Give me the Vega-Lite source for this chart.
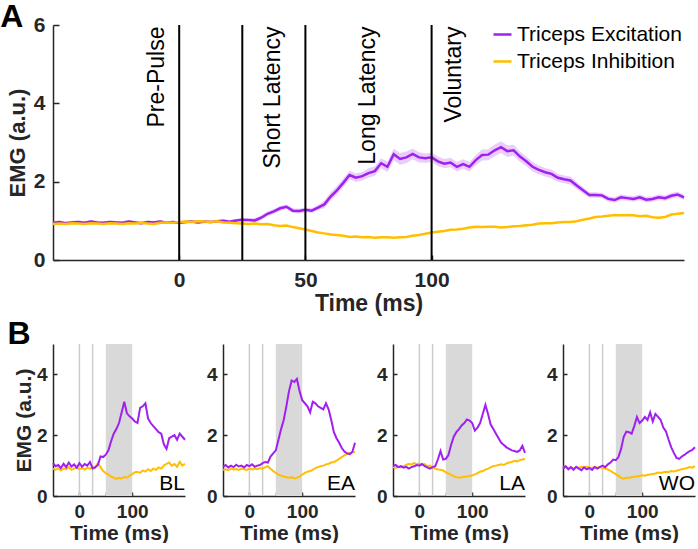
{
"$schema": "https://vega.github.io/schema/vega-lite/v6.json",
"padding": {"left": 0, "top": 1, "right": 0, "bottom": 0},
"background": "white",
"spacing": 3,
"config": {
  "view": {"stroke": null},
  "font": "Liberation Sans",
  "axis": {"grid": false, "domainColor": "#262626", "domainWidth": 1.5, "tickColor": "#262626", "tickWidth": 1.5, "labelColor": "#262626", "titleColor": "#262626", "labelFont": "Liberation Sans", "titleFont": "Liberation Sans", "labelFontWeight": "bold", "titleFontWeight": "bold"}
},
"datasets": {
"a": [
{"t":-50,"ex":0.95,"in":0.92,"lo":0.91,"hi":0.99},
{"t":-47.5,"ex":0.97,"in":0.93,"lo":0.93,"hi":1.01},
{"t":-45,"ex":0.94,"in":0.92,"lo":0.90,"hi":0.98},
{"t":-42.5,"ex":0.96,"in":0.94,"lo":0.92,"hi":1.00},
{"t":-40,"ex":0.97,"in":0.93,"lo":0.93,"hi":1.01},
{"t":-37.5,"ex":0.95,"in":0.92,"lo":0.91,"hi":0.99},
{"t":-35,"ex":0.98,"in":0.94,"lo":0.94,"hi":1.02},
{"t":-32.5,"ex":0.96,"in":0.93,"lo":0.92,"hi":1.00},
{"t":-30,"ex":0.95,"in":0.92,"lo":0.91,"hi":0.99},
{"t":-27.5,"ex":0.97,"in":0.94,"lo":0.93,"hi":1.01},
{"t":-25,"ex":0.96,"in":0.93,"lo":0.92,"hi":1.00},
{"t":-22.5,"ex":0.95,"in":0.92,"lo":0.91,"hi":0.99},
{"t":-20,"ex":0.98,"in":0.94,"lo":0.94,"hi":1.02},
{"t":-17.5,"ex":0.96,"in":0.93,"lo":0.92,"hi":1.00},
{"t":-15,"ex":0.94,"in":0.95,"lo":0.90,"hi":0.98},
{"t":-12.5,"ex":0.97,"in":0.93,"lo":0.93,"hi":1.01},
{"t":-10,"ex":0.96,"in":0.92,"lo":0.92,"hi":1.00},
{"t":-7.5,"ex":0.98,"in":0.95,"lo":0.94,"hi":1.02},
{"t":-5,"ex":0.95,"in":0.96,"lo":0.91,"hi":0.99},
{"t":-2.5,"ex":0.97,"in":0.95,"lo":0.93,"hi":1.01},
{"t":0,"ex":0.95,"in":0.97,"lo":0.91,"hi":0.99},
{"t":2.5,"ex":0.97,"in":0.98,"lo":0.93,"hi":1.01},
{"t":5,"ex":0.98,"in":0.97,"lo":0.94,"hi":1.02},
{"t":7.5,"ex":0.96,"in":0.99,"lo":0.92,"hi":1.00},
{"t":10,"ex":0.98,"in":0.98,"lo":0.94,"hi":1.02},
{"t":12.5,"ex":0.97,"in":0.97,"lo":0.93,"hi":1.01},
{"t":15,"ex":0.99,"in":0.99,"lo":0.95,"hi":1.03},
{"t":17.5,"ex":1.00,"in":0.96,"lo":0.96,"hi":1.04},
{"t":20,"ex":0.98,"in":0.95,"lo":0.94,"hi":1.02},
{"t":22.5,"ex":1.01,"in":0.94,"lo":0.97,"hi":1.05},
{"t":25,"ex":1.03,"in":0.93,"lo":0.99,"hi":1.07},
{"t":27.5,"ex":1.02,"in":0.92,"lo":0.98,"hi":1.06},
{"t":30,"ex":1.01,"in":0.93,"lo":0.95,"hi":1.07},
{"t":32.5,"ex":1.08,"in":0.91,"lo":1.02,"hi":1.14},
{"t":35,"ex":1.18,"in":0.92,"lo":1.12,"hi":1.24},
{"t":37.5,"ex":1.24,"in":0.89,"lo":1.18,"hi":1.30},
{"t":40,"ex":1.32,"in":0.87,"lo":1.26,"hi":1.38},
{"t":42.5,"ex":1.36,"in":0.88,"lo":1.30,"hi":1.42},
{"t":45,"ex":1.26,"in":0.84,"lo":1.20,"hi":1.32},
{"t":47.5,"ex":1.25,"in":0.81,"lo":1.19,"hi":1.31},
{"t":50,"ex":1.28,"in":0.78,"lo":1.22,"hi":1.34},
{"t":52.5,"ex":1.26,"in":0.74,"lo":1.20,"hi":1.32},
{"t":55,"ex":1.34,"in":0.70,"lo":1.28,"hi":1.40},
{"t":57.5,"ex":1.42,"in":0.68,"lo":1.32,"hi":1.52},
{"t":60,"ex":1.62,"in":0.65,"lo":1.51,"hi":1.73},
{"t":62.5,"ex":1.78,"in":0.64,"lo":1.67,"hi":1.89},
{"t":65,"ex":1.97,"in":0.62,"lo":1.86,"hi":2.08},
{"t":67.5,"ex":2.17,"in":0.59,"lo":2.06,"hi":2.28},
{"t":70,"ex":2.10,"in":0.60,"lo":1.99,"hi":2.21},
{"t":72.5,"ex":2.14,"in":0.58,"lo":2.03,"hi":2.25},
{"t":75,"ex":2.22,"in":0.59,"lo":2.10,"hi":2.34},
{"t":77.5,"ex":2.27,"in":0.57,"lo":2.15,"hi":2.39},
{"t":80,"ex":2.47,"in":0.58,"lo":2.34,"hi":2.60},
{"t":82.5,"ex":2.38,"in":0.58,"lo":2.25,"hi":2.51},
{"t":85,"ex":2.70,"in":0.57,"lo":2.55,"hi":2.85},
{"t":87.5,"ex":2.58,"in":0.58,"lo":2.43,"hi":2.73},
{"t":90,"ex":2.62,"in":0.59,"lo":2.47,"hi":2.77},
{"t":92.5,"ex":2.71,"in":0.62,"lo":2.57,"hi":2.85},
{"t":95,"ex":2.62,"in":0.64,"lo":2.49,"hi":2.75},
{"t":97.5,"ex":2.60,"in":0.67,"lo":2.48,"hi":2.72},
{"t":100,"ex":2.62,"in":0.70,"lo":2.50,"hi":2.74},
{"t":102.5,"ex":2.52,"in":0.72,"lo":2.40,"hi":2.64},
{"t":105,"ex":2.46,"in":0.74,"lo":2.34,"hi":2.58},
{"t":107.5,"ex":2.49,"in":0.77,"lo":2.37,"hi":2.61},
{"t":110,"ex":2.38,"in":0.78,"lo":2.26,"hi":2.50},
{"t":112.5,"ex":2.45,"in":0.80,"lo":2.33,"hi":2.57},
{"t":115,"ex":2.38,"in":0.83,"lo":2.26,"hi":2.50},
{"t":117.5,"ex":2.55,"in":0.85,"lo":2.42,"hi":2.68},
{"t":120,"ex":2.68,"in":0.84,"lo":2.54,"hi":2.82},
{"t":122.5,"ex":2.69,"in":0.85,"lo":2.55,"hi":2.83},
{"t":125,"ex":2.80,"in":0.85,"lo":2.65,"hi":2.95},
{"t":127.5,"ex":2.88,"in":0.83,"lo":2.73,"hi":3.03},
{"t":130,"ex":2.78,"in":0.84,"lo":2.63,"hi":2.93},
{"t":132.5,"ex":2.80,"in":0.86,"lo":2.66,"hi":2.94},
{"t":135,"ex":2.64,"in":0.87,"lo":2.51,"hi":2.77},
{"t":137.5,"ex":2.52,"in":0.89,"lo":2.40,"hi":2.64},
{"t":140,"ex":2.38,"in":0.90,"lo":2.26,"hi":2.50},
{"t":142.5,"ex":2.30,"in":0.93,"lo":2.19,"hi":2.41},
{"t":145,"ex":2.24,"in":0.94,"lo":2.13,"hi":2.35},
{"t":147.5,"ex":2.20,"in":0.94,"lo":2.09,"hi":2.31},
{"t":150,"ex":2.10,"in":0.96,"lo":2.00,"hi":2.20},
{"t":152.5,"ex":2.06,"in":0.97,"lo":1.96,"hi":2.16},
{"t":155,"ex":2.03,"in":0.97,"lo":1.93,"hi":2.13},
{"t":157.5,"ex":1.90,"in":0.99,"lo":1.81,"hi":1.99},
{"t":160,"ex":1.78,"in":1.03,"lo":1.70,"hi":1.86},
{"t":162.5,"ex":1.66,"in":1.06,"lo":1.59,"hi":1.73},
{"t":165,"ex":1.66,"in":1.10,"lo":1.59,"hi":1.73},
{"t":167.5,"ex":1.65,"in":1.11,"lo":1.58,"hi":1.72},
{"t":170,"ex":1.56,"in":1.13,"lo":1.49,"hi":1.63},
{"t":172.5,"ex":1.53,"in":1.15,"lo":1.46,"hi":1.60},
{"t":175,"ex":1.60,"in":1.14,"lo":1.53,"hi":1.67},
{"t":177.5,"ex":1.58,"in":1.15,"lo":1.51,"hi":1.65},
{"t":180,"ex":1.56,"in":1.14,"lo":1.49,"hi":1.63},
{"t":182.5,"ex":1.60,"in":1.12,"lo":1.53,"hi":1.67},
{"t":185,"ex":1.54,"in":1.13,"lo":1.47,"hi":1.61},
{"t":187.5,"ex":1.56,"in":1.09,"lo":1.49,"hi":1.63},
{"t":190,"ex":1.60,"in":1.08,"lo":1.53,"hi":1.67},
{"t":192.5,"ex":1.58,"in":1.10,"lo":1.51,"hi":1.65},
{"t":195,"ex":1.64,"in":1.16,"lo":1.57,"hi":1.71},
{"t":197.5,"ex":1.67,"in":1.18,"lo":1.60,"hi":1.74},
{"t":200,"ex":1.60,"in":1.20,"lo":1.53,"hi":1.67}
],
"b": [
{"p":"BL","t":-50,"e":1.08,"i":0.90},{"p":"BL","t":-45,"e":0.98,"i":0.86},{"p":"BL","t":-40,"e":1.02,"i":0.92},{"p":"BL","t":-35,"e":0.92,"i":0.84},{"p":"BL","t":-30,"e":1.06,"i":0.90},{"p":"BL","t":-25,"e":0.95,"i":0.88},{"p":"BL","t":-20,"e":1.10,"i":0.95},{"p":"BL","t":-15,"e":0.97,"i":0.86},{"p":"BL","t":-10,"e":1.04,"i":0.90},{"p":"BL","t":-5,"e":0.93,"i":0.94},{"p":"BL","t":0,"e":1.08,"i":0.88},{"p":"BL","t":5,"e":0.96,"i":0.92},{"p":"BL","t":10,"e":1.05,"i":0.87},{"p":"BL","t":15,"e":1.00,"i":0.93},{"p":"BL","t":20,"e":1.12,"i":0.90},{"p":"BL","t":25,"e":0.90,"i":0.95},{"p":"BL","t":30,"e":0.95,"i":0.92},{"p":"BL","t":35,"e":1.02,"i":1.08},{"p":"BL","t":40,"e":1.30,"i":0.95},{"p":"BL","t":45,"e":1.28,"i":0.82},{"p":"BL","t":50,"e":1.36,"i":0.75},{"p":"BL","t":55,"e":1.50,"i":0.70},{"p":"BL","t":60,"e":1.80,"i":0.64},{"p":"BL","t":65,"e":2.05,"i":0.60},{"p":"BL","t":70,"e":2.20,"i":0.56},{"p":"BL","t":75,"e":2.40,"i":0.60},{"p":"BL","t":80,"e":2.75,"i":0.58},{"p":"BL","t":85,"e":3.10,"i":0.63},{"p":"BL","t":90,"e":2.72,"i":0.60},{"p":"BL","t":95,"e":2.62,"i":0.66},{"p":"BL","t":100,"e":2.55,"i":0.72},{"p":"BL","t":105,"e":2.45,"i":0.78},{"p":"BL","t":110,"e":2.40,"i":0.80},{"p":"BL","t":115,"e":2.90,"i":0.76},{"p":"BL","t":120,"e":2.95,"i":0.84},{"p":"BL","t":125,"e":3.05,"i":0.80},{"p":"BL","t":130,"e":2.55,"i":0.88},{"p":"BL","t":135,"e":2.40,"i":0.82},{"p":"BL","t":140,"e":2.30,"i":0.90},{"p":"BL","t":145,"e":2.20,"i":0.86},{"p":"BL","t":150,"e":2.10,"i":0.94},{"p":"BL","t":155,"e":2.05,"i":0.90},{"p":"BL","t":160,"e":1.70,"i":1.00},{"p":"BL","t":165,"e":1.55,"i":1.06},{"p":"BL","t":170,"e":1.90,"i":1.10},{"p":"BL","t":175,"e":1.95,"i":1.00},{"p":"BL","t":180,"e":2.00,"i":1.05},{"p":"BL","t":185,"e":1.85,"i":0.96},{"p":"BL","t":190,"e":2.05,"i":1.12},{"p":"BL","t":195,"e":1.95,"i":1.00},{"p":"BL","t":200,"e":1.85,"i":1.06},
{"p":"EA","t":-50,"e":0.96,"i":0.86},{"p":"EA","t":-45,"e":1.02,"i":0.88},{"p":"EA","t":-40,"e":0.94,"i":0.85},{"p":"EA","t":-35,"e":1.00,"i":0.90},{"p":"EA","t":-30,"e":0.95,"i":0.87},{"p":"EA","t":-25,"e":1.03,"i":0.89},{"p":"EA","t":-20,"e":0.97,"i":0.86},{"p":"EA","t":-15,"e":1.00,"i":0.90},{"p":"EA","t":-10,"e":0.94,"i":0.88},{"p":"EA","t":-5,"e":1.02,"i":0.86},{"p":"EA","t":0,"e":0.98,"i":0.90},{"p":"EA","t":5,"e":1.04,"i":0.87},{"p":"EA","t":10,"e":0.96,"i":0.90},{"p":"EA","t":15,"e":1.00,"i":0.88},{"p":"EA","t":20,"e":1.02,"i":0.92},{"p":"EA","t":25,"e":1.08,"i":0.90},{"p":"EA","t":30,"e":1.12,"i":0.95},{"p":"EA","t":35,"e":1.10,"i":0.98},{"p":"EA","t":40,"e":1.30,"i":0.90},{"p":"EA","t":45,"e":1.40,"i":0.82},{"p":"EA","t":50,"e":1.50,"i":0.76},{"p":"EA","t":55,"e":1.85,"i":0.70},{"p":"EA","t":60,"e":2.20,"i":0.67},{"p":"EA","t":65,"e":2.50,"i":0.64},{"p":"EA","t":70,"e":2.95,"i":0.62},{"p":"EA","t":75,"e":3.45,"i":0.60},{"p":"EA","t":80,"e":3.80,"i":0.62},{"p":"EA","t":85,"e":3.75,"i":0.58},{"p":"EA","t":90,"e":3.85,"i":0.60},{"p":"EA","t":95,"e":3.45,"i":0.64},{"p":"EA","t":100,"e":3.15,"i":0.70},{"p":"EA","t":105,"e":3.05,"i":0.76},{"p":"EA","t":110,"e":2.95,"i":0.80},{"p":"EA","t":115,"e":2.75,"i":0.82},{"p":"EA","t":120,"e":3.10,"i":0.86},{"p":"EA","t":125,"e":3.05,"i":0.92},{"p":"EA","t":130,"e":2.95,"i":0.95},{"p":"EA","t":135,"e":2.90,"i":0.98},{"p":"EA","t":140,"e":2.85,"i":1.00},{"p":"EA","t":145,"e":3.05,"i":1.04},{"p":"EA","t":150,"e":2.85,"i":1.06},{"p":"EA","t":155,"e":2.50,"i":1.10},{"p":"EA","t":160,"e":2.10,"i":1.12},{"p":"EA","t":165,"e":1.90,"i":1.16},{"p":"EA","t":170,"e":1.75,"i":1.22},{"p":"EA","t":175,"e":1.58,"i":1.28},{"p":"EA","t":180,"e":1.46,"i":1.34},{"p":"EA","t":185,"e":1.40,"i":1.38},{"p":"EA","t":190,"e":1.38,"i":1.42},{"p":"EA","t":195,"e":1.45,"i":1.45},{"p":"EA","t":200,"e":1.75,"i":1.44},
{"p":"LA","t":-50,"e":0.98,"i":0.95},{"p":"LA","t":-45,"e":1.02,"i":0.92},{"p":"LA","t":-40,"e":0.95,"i":0.96},{"p":"LA","t":-35,"e":0.98,"i":0.94},{"p":"LA","t":-30,"e":0.93,"i":0.98},{"p":"LA","t":-25,"e":0.96,"i":1.02},{"p":"LA","t":-20,"e":0.90,"i":1.06},{"p":"LA","t":-15,"e":0.95,"i":1.04},{"p":"LA","t":-10,"e":0.98,"i":1.08},{"p":"LA","t":-5,"e":1.02,"i":1.05},{"p":"LA","t":0,"e":1.00,"i":1.07},{"p":"LA","t":5,"e":1.05,"i":1.02},{"p":"LA","t":10,"e":0.98,"i":1.05},{"p":"LA","t":15,"e":0.94,"i":0.98},{"p":"LA","t":20,"e":0.90,"i":1.00},{"p":"LA","t":25,"e":0.95,"i":0.93},{"p":"LA","t":30,"e":0.98,"i":0.90},{"p":"LA","t":35,"e":1.20,"i":0.87},{"p":"LA","t":40,"e":1.48,"i":0.86},{"p":"LA","t":45,"e":1.20,"i":0.84},{"p":"LA","t":50,"e":1.22,"i":0.78},{"p":"LA","t":55,"e":1.35,"i":0.74},{"p":"LA","t":60,"e":1.68,"i":0.70},{"p":"LA","t":65,"e":1.95,"i":0.65},{"p":"LA","t":70,"e":2.10,"i":0.62},{"p":"LA","t":75,"e":2.20,"i":0.60},{"p":"LA","t":80,"e":2.32,"i":0.62},{"p":"LA","t":85,"e":2.40,"i":0.63},{"p":"LA","t":90,"e":2.52,"i":0.64},{"p":"LA","t":95,"e":2.48,"i":0.66},{"p":"LA","t":100,"e":2.40,"i":0.68},{"p":"LA","t":105,"e":2.15,"i":0.71},{"p":"LA","t":110,"e":2.25,"i":0.75},{"p":"LA","t":115,"e":2.40,"i":0.80},{"p":"LA","t":120,"e":2.70,"i":0.82},{"p":"LA","t":125,"e":3.00,"i":0.87},{"p":"LA","t":130,"e":2.70,"i":0.90},{"p":"LA","t":135,"e":2.35,"i":0.94},{"p":"LA","t":140,"e":2.20,"i":0.98},{"p":"LA","t":145,"e":2.05,"i":1.00},{"p":"LA","t":150,"e":1.90,"i":1.02},{"p":"LA","t":155,"e":1.75,"i":1.04},{"p":"LA","t":160,"e":1.68,"i":1.02},{"p":"LA","t":165,"e":1.60,"i":1.07},{"p":"LA","t":170,"e":1.55,"i":1.10},{"p":"LA","t":175,"e":1.50,"i":1.12},{"p":"LA","t":180,"e":1.48,"i":1.16},{"p":"LA","t":185,"e":1.45,"i":1.14},{"p":"LA","t":190,"e":1.50,"i":1.18},{"p":"LA","t":195,"e":1.65,"i":1.20},{"p":"LA","t":200,"e":1.42,"i":1.22},
{"p":"WO","t":-50,"e":0.90,"i":0.92},{"p":"WO","t":-45,"e":0.98,"i":0.96},{"p":"WO","t":-40,"e":0.88,"i":0.90},{"p":"WO","t":-35,"e":0.95,"i":0.94},{"p":"WO","t":-30,"e":0.86,"i":0.91},{"p":"WO","t":-25,"e":0.96,"i":0.95},{"p":"WO","t":-20,"e":0.90,"i":0.92},{"p":"WO","t":-15,"e":0.85,"i":0.96},{"p":"WO","t":-10,"e":0.94,"i":0.93},{"p":"WO","t":-5,"e":0.88,"i":0.97},{"p":"WO","t":0,"e":0.92,"i":0.94},{"p":"WO","t":5,"e":0.86,"i":0.92},{"p":"WO","t":10,"e":0.95,"i":0.96},{"p":"WO","t":15,"e":0.90,"i":0.93},{"p":"WO","t":20,"e":0.96,"i":0.95},{"p":"WO","t":25,"e":1.00,"i":0.92},{"p":"WO","t":30,"e":0.95,"i":0.90},{"p":"WO","t":35,"e":1.04,"i":0.87},{"p":"WO","t":40,"e":1.10,"i":0.83},{"p":"WO","t":45,"e":1.20,"i":0.77},{"p":"WO","t":50,"e":1.18,"i":0.72},{"p":"WO","t":55,"e":1.28,"i":0.66},{"p":"WO","t":60,"e":1.55,"i":0.60},{"p":"WO","t":65,"e":1.95,"i":0.57},{"p":"WO","t":70,"e":2.12,"i":0.60},{"p":"WO","t":75,"e":2.10,"i":0.60},{"p":"WO","t":80,"e":2.05,"i":0.62},{"p":"WO","t":85,"e":2.30,"i":0.63},{"p":"WO","t":90,"e":2.60,"i":0.65},{"p":"WO","t":95,"e":2.40,"i":0.66},{"p":"WO","t":100,"e":2.48,"i":0.68},{"p":"WO","t":105,"e":2.60,"i":0.67},{"p":"WO","t":110,"e":2.50,"i":0.70},{"p":"WO","t":115,"e":2.75,"i":0.71},{"p":"WO","t":120,"e":2.45,"i":0.72},{"p":"WO","t":125,"e":2.70,"i":0.74},{"p":"WO","t":130,"e":2.60,"i":0.77},{"p":"WO","t":135,"e":2.50,"i":0.76},{"p":"WO","t":140,"e":2.25,"i":0.78},{"p":"WO","t":145,"e":2.12,"i":0.80},{"p":"WO","t":150,"e":1.85,"i":0.79},{"p":"WO","t":155,"e":1.60,"i":0.82},{"p":"WO","t":160,"e":1.42,"i":0.81},{"p":"WO","t":165,"e":1.25,"i":0.83},{"p":"WO","t":170,"e":1.22,"i":0.86},{"p":"WO","t":175,"e":1.30,"i":0.88},{"p":"WO","t":180,"e":1.35,"i":0.90},{"p":"WO","t":185,"e":1.42,"i":0.92},{"p":"WO","t":190,"e":1.48,"i":0.95},{"p":"WO","t":195,"e":1.52,"i":0.93},{"p":"WO","t":200,"e":1.60,"i":0.98}
]
},
"vconcat": [
{
  "title": {"text": "A", "anchor": "start", "frame": "bounds", "fontSize": 32, "fontWeight": "bold", "color": "black", "baseline": "alphabetic", "offset": 0, "dx": -6, "dy": 45},
  "width": 631, "height": 235,
  "encoding": {"x": {"field": "t", "type": "quantitative", "scale": {"domain": [-50, 200], "nice": false}, "axis": {"values": [0, 50, 100], "title": "Time (ms)", "labelFontSize": 21, "titleFontSize": 23, "tickSize": -5, "labelPadding": 14, "titlePadding": 2}}},
  "layer": [
    {"data": {"name": "a"}, "mark": {"type": "area", "color": "#b65cf5", "opacity": 0.3},
     "encoding": {"y": {"field": "lo", "type": "quantitative", "scale": {"domain": [0, 6], "nice": false}, "title": "EMG (a.u.)", "axis": {"values": [0, 2, 4, 6], "labelFontSize": 21, "titleFontSize": 22, "tickSize": -6, "labelPadding": 14, "titlePadding": 4}}, "y2": {"field": "hi"}}},
    {"data": {"name": "a"}, "transform": [{"fold": ["ex", "in"], "as": ["s", "v"]}],
     "mark": {"type": "line", "strokeWidth": 2.5},
     "encoding": {"y": {"field": "v", "type": "quantitative", "title": "EMG (a.u.)"},
       "color": {"field": "s", "type": "nominal", "scale": {"domain": ["ex", "in"], "range": ["#a020f0", "#ffbf00"]},
         "legend": {"orient": "none", "legendX": 439, "legendY": -1, "title": null, "padding": 0, "symbolType": "stroke", "symbolSize": 324, "symbolStrokeWidth": 2.5, "labelFontSize": 21, "labelLimit": 400, "labelFont": "Liberation Sans", "labelColor": "black", "labelOffset": 4, "rowPadding": 5, "labelExpr": "datum.label == 'ex' ? 'Triceps Excitation' : 'Triceps Inhibition'"}}}},
    {"data": {"values": [{"t": 0}, {"t": 25}, {"t": 50}, {"t": 100}]}, "mark": {"type": "rule", "color": "black", "strokeWidth": 2}, "encoding": {}},
    {"data": {"values": [{"t": -8.6, "v": 5.96, "lab": "Pre-Pulse"}, {"t": 37, "v": 5.96, "lab": "Short Latency"}, {"t": 74.7, "v": 5.96, "lab": "Long Latency"}, {"t": 109, "v": 5.96, "lab": "Voluntary"}]},
     "mark": {"type": "text", "angle": 270, "align": "right", "baseline": "middle", "fontSize": 23, "color": "black", "font": "Liberation Sans"},
     "encoding": {"y": {"field": "v", "type": "quantitative", "title": "EMG (a.u.)"}, "text": {"field": "lab"}}}
  ]
},
{
  "title": {"text": "B", "anchor": "start", "frame": "bounds", "fontSize": 32, "fontWeight": "bold", "color": "black", "baseline": "alphabetic", "offset": 0, "dx": -6, "dy": 33},
  "spacing": 17,
  "hconcat": [
    {"width": 132, "height": 152, "data": {"name": "b"}, "transform": [{"filter": "datum.p == 'BL'"}],
     "encoding": {"x": {"field": "t", "type": "quantitative", "scale": {"domain": [-50, 200], "nice": false}, "axis": {"values": [0, 50, 100], "labelExpr": "datum.value == 50 ? '' : datum.label", "title": "Time (ms)", "labelFontSize": 19, "titleFontSize": 21, "tickSize": -4, "labelPadding": 10, "titlePadding": 1}}},
     "layer": [
       {"data": {"values": [{"t": 50, "t2": 100}]}, "mark": {"type": "rect", "color": "#d9d9d9"}, "encoding": {"x2": {"field": "t2"}}},
       {"data": {"values": [{"t": 0}, {"t": 25}]}, "mark": {"type": "rule", "color": "#cccccc", "strokeWidth": 1.5}, "encoding": {}},
       {"mark": {"type": "line", "color": "#ffbf00", "strokeWidth": 2}, "encoding": {"y": {"field": "i", "type": "quantitative", "title": "EMG (a.u.)", "scale": {"domain": [0, 5], "nice": false}, "axis": {"values": [0, 1, 2, 3, 4, 5], "labelExpr": "datum.value == 0 || datum.value == 2 || datum.value == 4 ? datum.label : ''", "labelFontSize": 19, "titleFontSize": 21, "tickSize": -4, "labelPadding": 10, "titlePadding": 2}}}},
       {"mark": {"type": "line", "color": "#a020f0", "strokeWidth": 2}, "encoding": {"y": {"field": "e", "type": "quantitative", "title": "EMG (a.u.)"}}},
       {"data": {"values": [{"t": 200, "e": 0.2, "lab": "BL"}]}, "mark": {"type": "text", "align": "right", "baseline": "alphabetic", "fontSize": 21, "color": "black"}, "encoding": {"y": {"field": "e", "type": "quantitative", "title": "EMG (a.u.)"}, "text": {"field": "lab"}}}
     ]},
    {"width": 132, "height": 152, "data": {"name": "b"}, "transform": [{"filter": "datum.p == 'EA'"}],
     "encoding": {"x": {"field": "t", "type": "quantitative", "scale": {"domain": [-50, 200], "nice": false}, "axis": {"values": [0, 50, 100], "labelExpr": "datum.value == 50 ? '' : datum.label", "title": "Time (ms)", "labelFontSize": 19, "titleFontSize": 21, "tickSize": -4, "labelPadding": 10, "titlePadding": 1}}},
     "layer": [
       {"data": {"values": [{"t": 50, "t2": 100}]}, "mark": {"type": "rect", "color": "#d9d9d9"}, "encoding": {"x2": {"field": "t2"}}},
       {"data": {"values": [{"t": 0}, {"t": 25}]}, "mark": {"type": "rule", "color": "#cccccc", "strokeWidth": 1.5}, "encoding": {}},
       {"mark": {"type": "line", "color": "#ffbf00", "strokeWidth": 2}, "encoding": {"y": {"field": "i", "type": "quantitative", "title": null, "scale": {"domain": [0, 5], "nice": false}, "axis": {"values": [0, 1, 2, 3, 4, 5], "labelExpr": "datum.value == 0 || datum.value == 2 || datum.value == 4 ? datum.label : ''", "labelFontSize": 19, "tickSize": -4, "labelPadding": 10}}}},
       {"mark": {"type": "line", "color": "#a020f0", "strokeWidth": 2}, "encoding": {"y": {"field": "e", "type": "quantitative", "title": null}}},
       {"data": {"values": [{"t": 200, "e": 0.2, "lab": "EA"}]}, "mark": {"type": "text", "align": "right", "baseline": "alphabetic", "fontSize": 21, "color": "black"}, "encoding": {"y": {"field": "e", "type": "quantitative", "title": null}, "text": {"field": "lab"}}}
     ]},
    {"width": 132, "height": 152, "data": {"name": "b"}, "transform": [{"filter": "datum.p == 'LA'"}],
     "encoding": {"x": {"field": "t", "type": "quantitative", "scale": {"domain": [-50, 200], "nice": false}, "axis": {"values": [0, 50, 100], "labelExpr": "datum.value == 50 ? '' : datum.label", "title": "Time (ms)", "labelFontSize": 19, "titleFontSize": 21, "tickSize": -4, "labelPadding": 10, "titlePadding": 1}}},
     "layer": [
       {"data": {"values": [{"t": 50, "t2": 100}]}, "mark": {"type": "rect", "color": "#d9d9d9"}, "encoding": {"x2": {"field": "t2"}}},
       {"data": {"values": [{"t": 0}, {"t": 25}]}, "mark": {"type": "rule", "color": "#cccccc", "strokeWidth": 1.5}, "encoding": {}},
       {"mark": {"type": "line", "color": "#ffbf00", "strokeWidth": 2}, "encoding": {"y": {"field": "i", "type": "quantitative", "title": null, "scale": {"domain": [0, 5], "nice": false}, "axis": {"values": [0, 1, 2, 3, 4, 5], "labelExpr": "datum.value == 0 || datum.value == 2 || datum.value == 4 ? datum.label : ''", "labelFontSize": 19, "tickSize": -4, "labelPadding": 10}}}},
       {"mark": {"type": "line", "color": "#a020f0", "strokeWidth": 2}, "encoding": {"y": {"field": "e", "type": "quantitative", "title": null}}},
       {"data": {"values": [{"t": 200, "e": 0.2, "lab": "LA"}]}, "mark": {"type": "text", "align": "right", "baseline": "alphabetic", "fontSize": 21, "color": "black"}, "encoding": {"y": {"field": "e", "type": "quantitative", "title": null}, "text": {"field": "lab"}}}
     ]},
    {"width": 132, "height": 152, "data": {"name": "b"}, "transform": [{"filter": "datum.p == 'WO'"}],
     "encoding": {"x": {"field": "t", "type": "quantitative", "scale": {"domain": [-50, 200], "nice": false}, "axis": {"values": [0, 50, 100], "labelExpr": "datum.value == 50 ? '' : datum.label", "title": "Time (ms)", "labelFontSize": 19, "titleFontSize": 21, "tickSize": -4, "labelPadding": 10, "titlePadding": 1}}},
     "layer": [
       {"data": {"values": [{"t": 50, "t2": 100}]}, "mark": {"type": "rect", "color": "#d9d9d9"}, "encoding": {"x2": {"field": "t2"}}},
       {"data": {"values": [{"t": 0}, {"t": 25}]}, "mark": {"type": "rule", "color": "#cccccc", "strokeWidth": 1.5}, "encoding": {}},
       {"mark": {"type": "line", "color": "#ffbf00", "strokeWidth": 2}, "encoding": {"y": {"field": "i", "type": "quantitative", "title": null, "scale": {"domain": [0, 5], "nice": false}, "axis": {"values": [0, 1, 2, 3, 4, 5], "labelExpr": "datum.value == 0 || datum.value == 2 || datum.value == 4 ? datum.label : ''", "labelFontSize": 19, "tickSize": -4, "labelPadding": 10}}}},
       {"mark": {"type": "line", "color": "#a020f0", "strokeWidth": 2}, "encoding": {"y": {"field": "e", "type": "quantitative", "title": null}}},
       {"data": {"values": [{"t": 200, "e": 0.2, "lab": "WO"}]}, "mark": {"type": "text", "align": "right", "baseline": "alphabetic", "fontSize": 21, "color": "black"}, "encoding": {"y": {"field": "e", "type": "quantitative", "title": null}, "text": {"field": "lab"}}}
     ]}
  ]
}
]
}
